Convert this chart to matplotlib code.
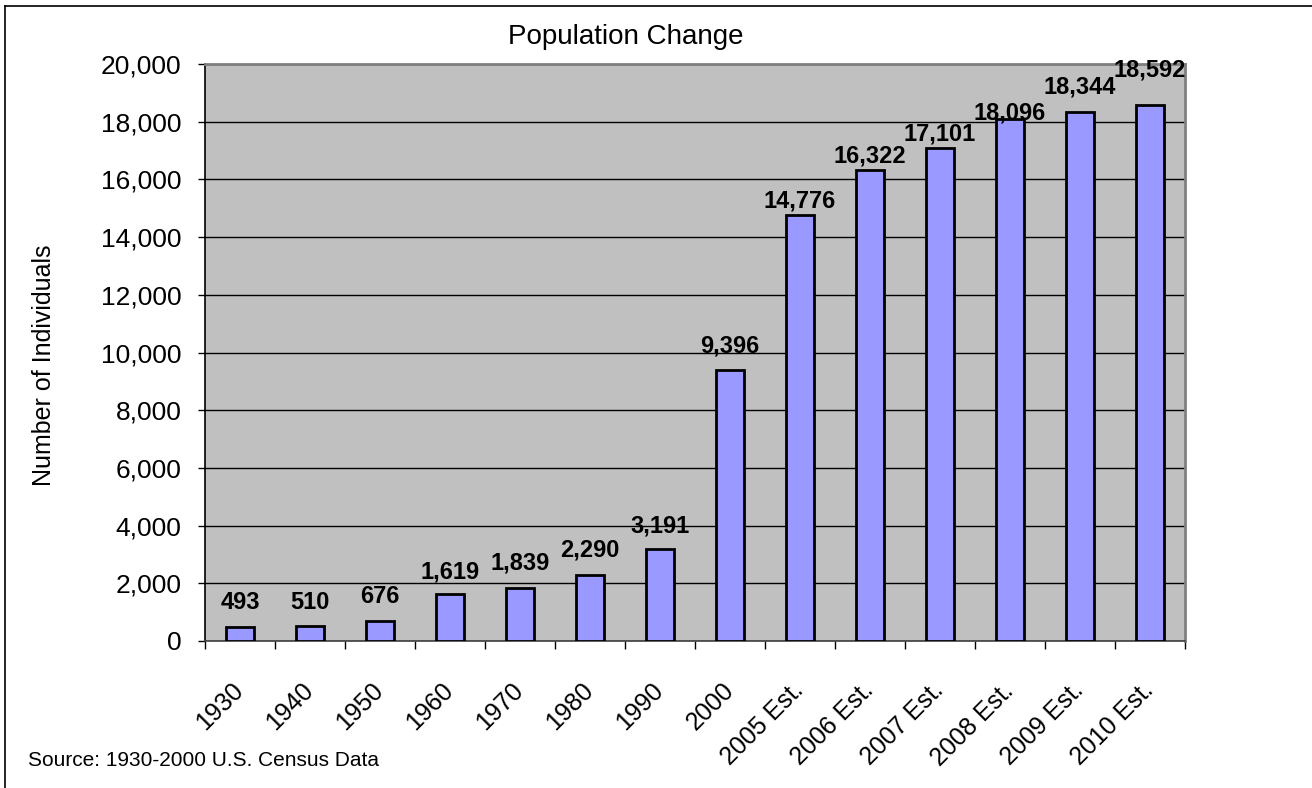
import matplotlib
matplotlib.use("Agg")
import matplotlib.pyplot as plt
from matplotlib.ticker import FuncFormatter, FixedLocator
import numpy as np

categories = ["1930", "1940", "1950", "1960", "1970", "1980", "1990", "2000",
              "2005 Est.", "2006 Est.", "2007 Est.", "2008 Est.", "2009 Est.", "2010 Est."]
population = [493, 510, 676, 1619, 1839, 2290, 3191, 9396,
              14776, 16322, 17101, 18096, 18344, 18592]
# label gap above bar top in pixels (styling)
label_gap_px = [18, 17, 18, 16, 18, 18, 16, 17, 7, 8, 7, -1, 18, 28]

plt.rcParams['font.family'] = ['Liberation Sans', 'DejaVu Sans']

W, H = 1312, 788
fig = plt.figure(figsize=(W / 100, H / 100), dpi=100)
ax = fig.add_axes([205 / W, 1 - 641 / H, (1185 - 205) / W, (641 - 64) / H])

x = np.arange(len(categories))
ax.set_facecolor('#C0C0C0')
ax.bar(x, population, width=0.41, color='#9999FF', edgecolor='black', linewidth=2.0, zorder=3)

for xi, v, g in zip(x, population, label_gap_px):
    ax.annotate(f"{v:,}", (xi, v), xytext=(0, g), textcoords='offset pixels',
                ha='center', va='baseline', fontsize=17, fontweight='bold', zorder=4,
                annotation_clip=False)

ax.set_xlim(-0.5, len(categories) - 0.5)
ax.set_ylim(0, 20000)
ax.set_yticks(np.arange(0, 20001, 2000))
ax.yaxis.set_major_formatter(FuncFormatter(lambda v, p: f"{int(v):,}"))
ax.grid(axis='y', color='black', linewidth=1.0, zorder=1)
ax.set_axisbelow(True)

ax.set_xticks(x)
ax.set_xticklabels(categories, rotation=45, ha='right', va='center', rotation_mode='anchor', fontsize=18)
ax.tick_params(axis='x', which='major', length=0, pad=33)
ax.xaxis.set_minor_locator(FixedLocator(np.arange(-0.5, len(categories), 1.0)))
ax.tick_params(axis='x', which='minor', length=6, width=1, color='black')
ax.tick_params(axis='y', length=5, width=1, color='black', pad=12, labelsize=19)

for side in ['top', 'right']:
    ax.spines[side].set_color('#808080')
    ax.spines[side].set_linewidth(2)
ax.spines['left'].set_color('black')
ax.spines['left'].set_linewidth(1.2)
ax.spines['bottom'].set_color('#404040')
ax.spines['bottom'].set_linewidth(1.2)

fig.text(626 / W, 1 - 37 / H, "Population Change", ha='center', va='center', fontsize=20)
fig.text(44 / W, 1 - 365 / H, "Number of Individuals", ha='center', va='center',
         rotation=90, fontsize=18)
fig.text(28 / W, 1 - 766 / H, "Source: 1930-2000 U.S. Census Data", ha='left', va='baseline', fontsize=15)

# outer chart border (top and left visible)
fig.add_artist(plt.Line2D([5 / W, 5 / W], [0, 1 - 6 / H], transform=fig.transFigure, color='black', linewidth=1.2))
fig.add_artist(plt.Line2D([5 / W, 1], [1 - 6 / H, 1 - 6 / H], transform=fig.transFigure, color='black', linewidth=1.2))

fig.savefig("out.png", dpi=100)
